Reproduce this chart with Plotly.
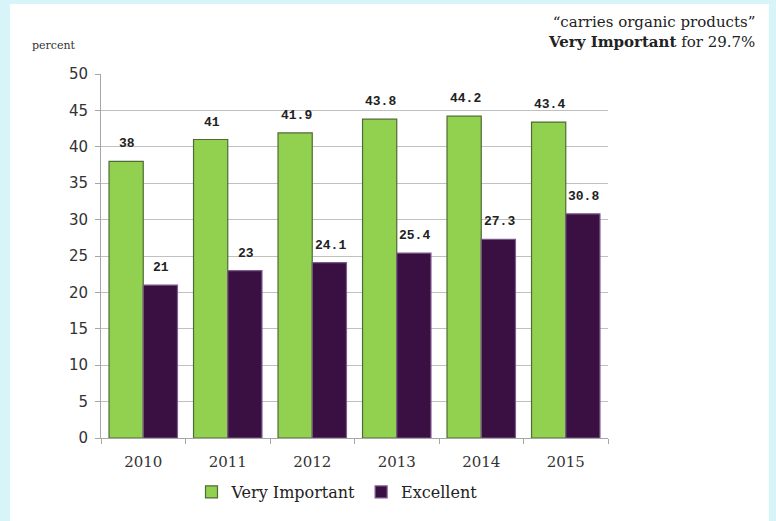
import plotly.graph_objects as go

years = ["2010", "2011", "2012", "2013", "2014", "2015"]
very_important = [38, 41, 41.9, 43.8, 44.2, 43.4]
excellent = [21, 23, 24.1, 25.4, 27.3, 30.8]
vi_labels = ["38", "41", "41.9", "43.8", "44.2", "43.4"]
ex_labels = ["21", "23", "24.1", "25.4", "27.3", "30.8"]

W, H = 776, 521
L, R, T, B = 101, 168, 74, 83
pw, ph = W - L - R, H - T - B
BARGAP = 0.19

def px(x):
    return (x - L) / pw

def py(y):
    return (H - B - y) / ph

label_font = dict(family="Liberation Mono", size=13, color="#222222", weight="bold")

fig = go.Figure()
fig.add_trace(go.Bar(
    x=years, y=very_important, name="Very Important",
    marker=dict(color="#92d050", line=dict(color="#4f6b35", width=1.2)),
))
fig.add_trace(go.Bar(
    x=years, y=excellent, name="Excellent",
    marker=dict(color="#3a0f42", line=dict(color="#7d5b8c", width=1.2)),
))

# bar-center offset in pixels (half of one bar width)
half = pw / len(years) * (1 - BARGAP) / 4
for vals, labs, sh in ((very_important, vi_labels, -half), (excellent, ex_labels, half)):
    for i, (v, t) in enumerate(zip(vals, labs)):
        fig.add_annotation(x=i, y=v, text=t, xref="x", yref="y", showarrow=False,
                           xshift=sh + 1, yshift=8, yanchor="bottom", xanchor="center",
                           font=label_font)

fig.add_shape(type="rect", xref="paper", yref="paper",
              x0=px(10), x1=px(769), y0=py(521), y1=py(4),
              fillcolor="white", line=dict(width=0), layer="below")

fig.add_annotation(text="percent", xref="paper", yref="paper",
                   x=px(30), y=py(45), xanchor="left", yanchor="middle",
                   showarrow=False, font=dict(family="DejaVu Serif", size=11, color="#333333"))
fig.add_annotation(text="\u201ccarries organic products\u201d<br><b>Very Important</b> for 29.7%",
                   xref="paper", yref="paper", x=px(757), y=py(32),
                   xanchor="right", yanchor="middle", align="right",
                   showarrow=False, font=dict(family="DejaVu Serif", size=15, color="#222222"))

fig.update_layout(
    width=W, height=H,
    margin=dict(l=L, r=R, t=T, b=B, pad=0),
    paper_bgcolor="#d7f5f9",
    plot_bgcolor="white",
    barmode="group", bargap=BARGAP, bargroupgap=0,
    font=dict(family="DejaVu Serif", size=13, color="#333333"),
    showlegend=True,
    legend=dict(orientation="h", x=px(337), y=py(492), xanchor="center", yanchor="middle",
                font=dict(family="DejaVu Serif", size=16, color="#222222"),
                bgcolor="rgba(0,0,0,0)", itemwidth=30, traceorder="normal"),
)
fig.update_xaxes(type="category", categoryorder="array", categoryarray=years,
                 range=[-0.5, len(years) - 0.5],
                 showline=True, linecolor="#a6a6a6", linewidth=1,
                 ticks="outside", tickson="boundaries", ticklen=5, tickcolor="#a6a6a6",
                 ticklabelstandoff=10, tickangle=0,
                 showgrid=False, tickfont=dict(family="DejaVu Serif", size=15, color="#333333"))
fig.update_yaxes(range=[0, 50], dtick=5, showline=True, linecolor="#a6a6a6", linewidth=1,
                 ticks="outside", ticklen=5, tickcolor="#a6a6a6", ticklabelstandoff=4,
                 showgrid=True, gridcolor="#c0c0c0", gridwidth=1, zeroline=False,
                 tickfont=dict(family="DejaVu Sans", size=15, color="#333333"))

fig.write_html("out.html")
